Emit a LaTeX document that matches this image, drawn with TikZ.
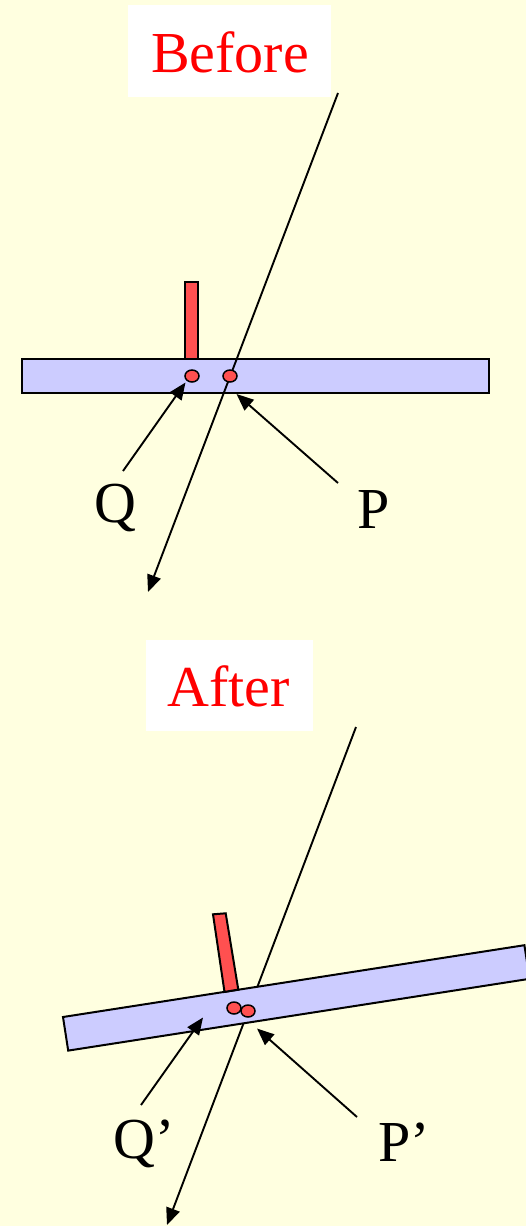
\documentclass[tikz,border=0pt]{standalone}
\usepackage{fontspec}
\setmainfont{Liberation Serif}
\usetikzlibrary{arrows.meta,shapes.geometric}
\definecolor{paper}{RGB}{255,255,224}
\definecolor{barblue}{RGB}{204,204,255}
\definecolor{postred}{RGB}{255,80,80}
\definecolor{titlered}{RGB}{255,0,0}
\tikzset{
  bigtext/.style={font=\fontsize{58}{58}\selectfont, inner sep=0pt, anchor=base},
  titletext/.style={bigtext, text=titlered},
  titlebox/.style={fill=white, draw=none},
  barshape/.style={fill=barblue, draw=black, line width=2pt, line join=miter},
  postshape/.style={fill=postred, draw=black, line width=2pt},
  dot/.style={ellipse, fill=postred, draw=black, line width=1.5pt, minimum width=14pt, minimum height=12pt, inner sep=0pt},
  tip/.style={-{Triangle[length=17pt,width=14pt]}},
  ray/.style={line width=1.9pt, tip},
  pointer/.style={line width=1.9pt, tip},
}
\begin{document}
\begin{tikzpicture}[x=1pt,y=-1pt]
  % page
  \fill[paper] (0,0) rectangle (526,1226);
  \useasboundingbox (0,0) rectangle (526,1226);

  % ---------- before ----------
  \fill[titlebox] (128,5) rectangle (331,97);
  \node[titletext] (before) at (230,72) {Before};

  \draw[barshape] (22,359) rectangle (489,393);
  \draw[postshape] (184.5,282) rectangle (198,359);

  \coordinate (rayA) at (338,93);
  \coordinate (rayAend) at (148,592);
  \draw[ray] (rayA) -- (rayAend);

  \node[dot] (q) at (192,376) {};
  \node[dot] (p) at (230,376) {};

  \node[bigtext] (qlab) at (115,522) {Q};
  \node[bigtext] (plab) at (374,528) {P};
  \coordinate (qfrom) at (123,471);
  \coordinate (qto) at (185.5,382.5);
  \coordinate (pfrom) at (338,483);
  \coordinate (pto) at (236.5,394);
  \draw[pointer] (qfrom) -- (qto);
  \draw[pointer] (pfrom) -- (pto);

  % ---------- after ----------
  \fill[titlebox] (146,640) rectangle (313,731);
  \node[titletext] (after) at (228.5,706) {After};

  \coordinate (rayB) at (356,727);
  \coordinate (rayBend) at (167,1225);
  \draw[ray] (rayB) -- (rayBend);

  % tilted bar and its post
  \draw[barshape] (63,1017) -- (524.4,945.2) -- (529.6,978.8) -- (68.2,1050.6) -- cycle;
  \draw[postshape] (213,914.3) -- (225.7,913.3) -- (238.3,989.6) -- (224.5,991.9) -- cycle;

  \node[dot] (q2) at (234,1008) {};
  \node[dot] (p2) at (248,1011) {};

  \node[bigtext, anchor=base west] (q2lab) at (113,1158) {Q’};
  \node[bigtext, anchor=base west] (p2lab) at (378,1161) {P’};
  \coordinate (q2from) at (141,1105);
  \coordinate (q2to) at (203,1017.5);
  \coordinate (p2from) at (357,1117);
  \coordinate (p2to) at (257,1028.5);
  \draw[pointer] (q2from) -- (q2to);
  \draw[pointer] (p2from) -- (p2to);
\end{tikzpicture}
\end{document}
